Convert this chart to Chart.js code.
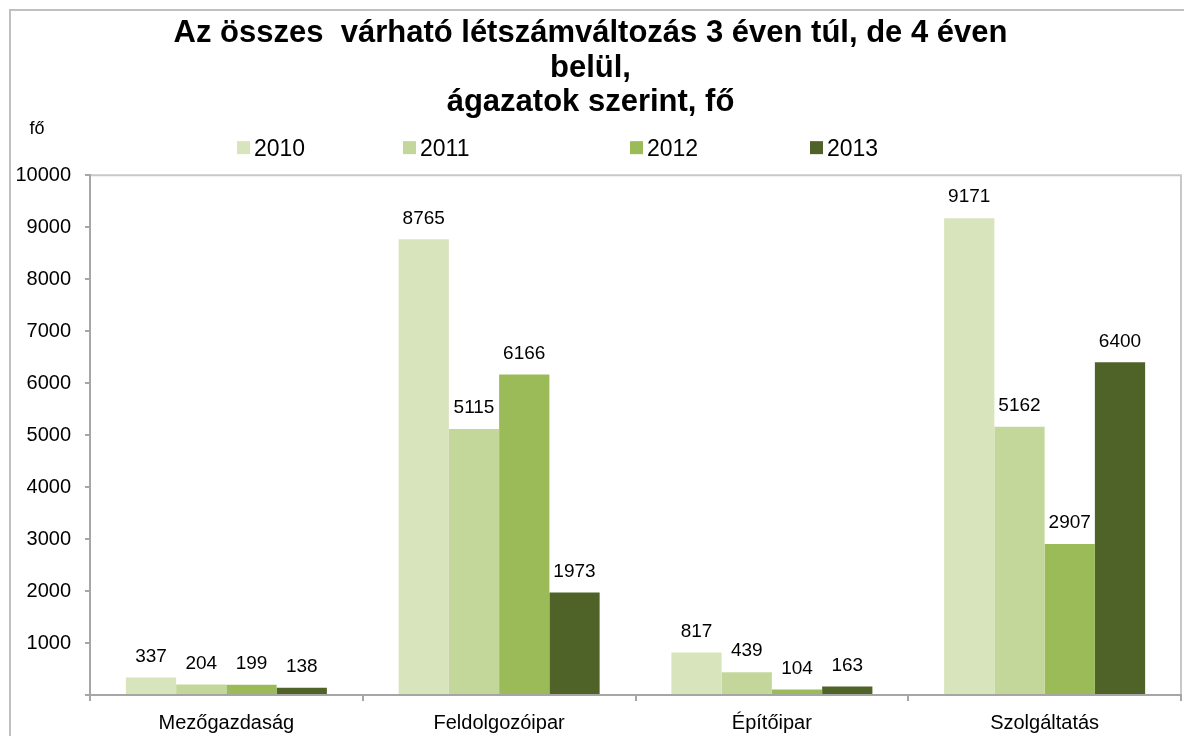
<!DOCTYPE html>
<html>
<head>
<meta charset="utf-8">
<script src="https://cdn.jsdelivr.net/npm/chart.js@4.4.0/dist/chart.umd.min.js"></script>
<style>
    html, body { margin: 0; padding: 0; background: #fff; }
    #wrap { width: 1184px; height: 736px; }
</style>
</head>
<body>
<div id="wrap"><canvas id="agazatChart" width="1184" height="736"></canvas></div>
<script>
const categories = ["Mezőgazdaság", "Feldolgozóipar", "Építőipar", "Szolgáltatás"];
const years = ["2010", "2011", "2012", "2013"];
const v2010 = [337, 8765, 817, 9171];
const v2011 = [204, 5115, 439, 5162];
const v2012 = [199, 6166, 104, 2907];
const v2013 = [138, 1973, 163, 6400];
const yTicks = [0, 1000, 2000, 3000, 4000, 5000, 6000, 7000, 8000, 9000, 10000];

const colors = ["#D8E4BC", "#C4D79B", "#9BBB59", "#4F6228"];
const legendX = [237, 403, 630, 810];
const FONT = "'Liberation Sans', Arial, sans-serif";

// outer frame, plot frame, "fő" label, legend and value labels
const extras = {
    id: "extras",
    beforeDraw(chart) {
        const c = chart.ctx;
        const a = chart.chartArea;
        c.save();
        c.strokeStyle = "#c0c0c0";
        c.lineWidth = 2;
        c.beginPath();
        c.moveTo(10, chart.height);
        c.lineTo(10, 10);
        c.lineTo(chart.width, 10);
        c.stroke();
        c.strokeStyle = "#c8c8c8";
        c.beginPath();
        c.moveTo(a.left, a.top);
        c.lineTo(a.right, a.top);
        c.lineTo(a.right, a.bottom);
        c.stroke();
        c.restore();
    },
    afterDraw(chart) {
        const c = chart.ctx;
        const a = chart.chartArea;
        c.save();
        c.fillStyle = "#000";
        c.font = "18px " + FONT;
        c.textAlign = "center";
        c.textBaseline = "middle";
        c.fillText("fő", 37, a.top - 46);

        c.font = "23px " + FONT;
        c.textAlign = "left";
        chart.data.datasets.forEach((ds, i) => {
            c.fillStyle = ds.backgroundColor;
            c.fillRect(legendX[i], a.top - 34, 13, 13);
            c.fillStyle = "#000";
            c.fillText(ds.label, legendX[i] + 17, a.top - 26);
        });

        c.font = "19px " + FONT;
        c.textAlign = "center";
        chart.data.datasets.forEach((ds, i) => {
            chart.getDatasetMeta(i).data.forEach((bar, j) => {
                c.fillText(String(ds.data[j]), bar.x, bar.y - 21);
            });
        });
        c.restore();
    }
};

const ctx = document.getElementById("agazatChart").getContext("2d");
const series = [v2010, v2011, v2012, v2013];

new Chart(ctx, {
    type: "bar",
    data: {
        labels: categories,
        datasets: series.map((vals, i) => ({
            label: years[i],
            data: vals,
            backgroundColor: colors[i],
            borderWidth: 0,
            categoryPercentage: 0.737,
            barPercentage: 1.0
        }))
    },
    options: {
        responsive: false,
        animation: false,
        layout: {
            padding: { left: 0, right: 3, top: 0, bottom: 3 }
        },
        scales: {
            x: {
                afterFit(scale) { scale.height = 38; },
                grid: {
                    offset: true,
                    drawOnChartArea: false,
                    tickLength: 6,
                    color: "#a6a6a6",
                    lineWidth: 2
                },
                border: { color: "#a6a6a6", width: 2 },
                ticks: {
                    color: "#000",
                    padding: 10,
                    font: { family: FONT, size: 20 }
                }
            },
            y: {
                min: 0,
                max: 10000,
                afterFit(scale) { scale.width = 90; },
                afterBuildTicks(scale) { scale.ticks = yTicks.map(v => ({ value: v })); },
                grid: {
                    drawOnChartArea: false,
                    tickLength: 5,
                    color: "#a6a6a6",
                    lineWidth: 2
                },
                border: { color: "#a6a6a6", width: 2 },
                ticks: {
                    color: "#000",
                    padding: 14,
                    font: { family: FONT, size: 20 },
                    callback: v => (v === 0 ? "" : String(v))
                }
            }
        },
        plugins: {
            legend: { display: false },
            tooltip: { enabled: false },
            title: {
                display: true,
                text: ["Az összes  várható létszámváltozás 3 éven túl, de 4 éven", "belül,", "ágazatok szerint, fő"],
                color: "#000",
                font: { family: FONT, size: 31, weight: "bold", lineHeight: 1.12 },
                padding: { top: 16, bottom: 55 }
            }
        }
    },
    plugins: [extras]
});
</script>
</body>
</html>
